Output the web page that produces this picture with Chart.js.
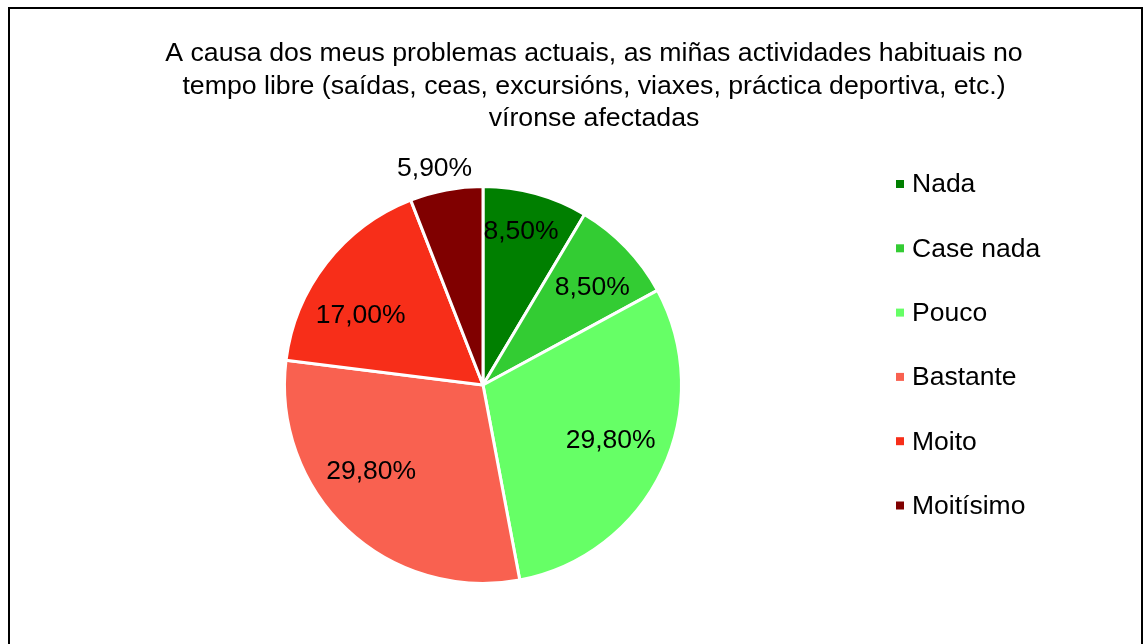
<!DOCTYPE html>
<html lang="gl">
<head>
<meta charset="UTF-8">
<title>Actividades no tempo libre</title>
<script src="https://cdn.jsdelivr.net/npm/chart.js"></script>
<style>
    html, body { margin: 0; padding: 0; background: #fff; overflow: hidden; }
    #frame { position: absolute; left: 8px; top: 7px; width: 1131px; height: 660px; border: 2px solid #000; }
    #wrap { position: absolute; left: 0; top: 0; width: 1131px; height: 635px; }
</style>
</head>
<body>
<div id="frame"><div id="wrap"><canvas id="pie"></canvas></div></div>
<script>
const titleLines = [
    'A causa dos meus problemas actuais, as miñas actividades habituais no',
    'tempo libre (saídas, ceas, excursións, viaxes, práctica deportiva, etc.)',
    'víronse afectadas'
];
const categories = ['Nada', 'Case nada', 'Pouco', 'Bastante', 'Moito', 'Moitísimo'];
const percentages = [8.5, 8.5, 29.8, 29.8, 17.0, 5.9];
const colours = ['#007f00', '#33cc33', '#66ff66', '#f96150', '#f72e19', '#800000'];
// label placement (fraction of radius, angle nudge in degrees)
const labelRadius = [0.8, 0.74, 0.7, 0.71, 0.71, 1.12];
const labelNudge = [-1.5, 1.9, -2.1, 9.3, -8.1, -1.9];

const FONT = '"Liberation Sans", Arial, sans-serif';

function pct(v) {
    return v.toFixed(2).replace('.', ',') + '%';
}

const extras = {
    id: 'extras',
    afterDraw(chart) {
        const ctx = chart.ctx;
        ctx.save();
        ctx.fillStyle = '#000';
        ctx.textBaseline = 'middle';

        // title
        ctx.font = '26.7px ' + FONT;
        ctx.textAlign = 'center';
        titleLines.forEach((t, i) => ctx.fillText(t, 584, 45 + i * 32.5));

        // slice labels
        ctx.font = '26.5px ' + FONT;
        const arcs = chart.getDatasetMeta(0).data;
        arcs.forEach((arc, i) => {
            const p = arc.getProps(['x', 'y', 'startAngle', 'endAngle', 'outerRadius']);
            const mid = (p.startAngle + p.endAngle) / 2 + labelNudge[i] * Math.PI / 180;
            const r = p.outerRadius * labelRadius[i];
            ctx.fillText(pct(percentages[i]), p.x + Math.cos(mid) * r, p.y + Math.sin(mid) * r + 1);
        });

        // legend
        ctx.textAlign = 'left';
        categories.forEach((c, i) => {
            const y = 175 + i * 64.3;
            ctx.fillStyle = colours[i];
            ctx.fillRect(886, y - 4, 8, 8);
            ctx.fillStyle = '#000';
            ctx.fillText(c, 902, y + 1);
        });
        ctx.restore();
    }
};

new Chart(document.getElementById('pie'), {
    type: 'pie',
    data: {
        labels: categories,
        datasets: [{
            data: percentages,
            backgroundColor: colours,
            borderColor: '#ffffff',
            borderWidth: 3
        }]
    },
    options: {
        responsive: true,
        maintainAspectRatio: false,
        animation: false,
        layout: { padding: { left: 273, top: 176, right: 458, bottom: 59 } },
        plugins: {
            legend: { display: false },
            title: { display: false },
            tooltip: { enabled: false }
        }
    },
    plugins: [extras]
});
</script>
</body>
</html>
